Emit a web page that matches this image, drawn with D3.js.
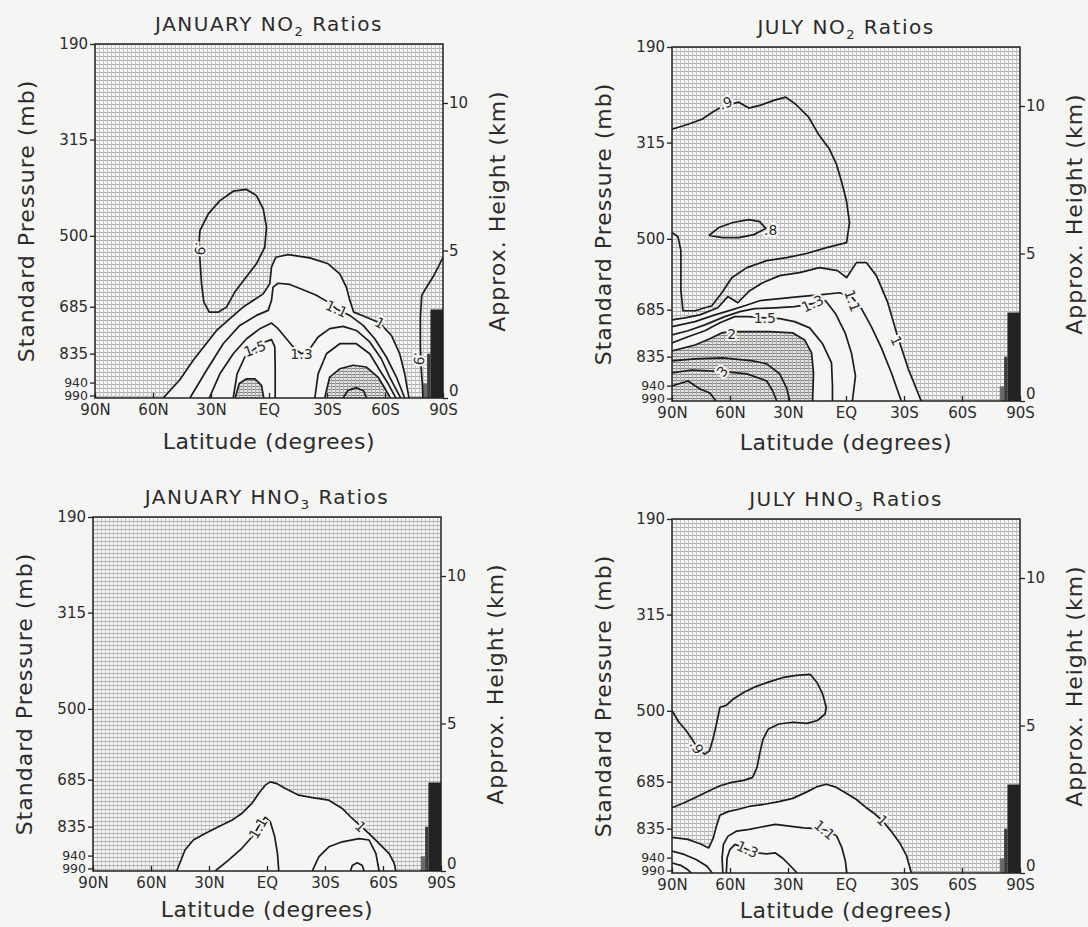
<!DOCTYPE html>
<html><head><meta charset="utf-8">
<script src="https://cdn.jsdelivr.net/npm/d3@7"></script>
<style>
body{margin:0;background:#f5f5f3}
svg{display:block}
text{font-family:'DejaVu Sans',sans-serif;fill:#2b2b2b}
</style></head>
<body><svg id="chart" width="1088" height="927"></svg>
<script>
// ---------- axis data ----------
const latTicks = [90, 60, 30, 0, -30, -60, -90];
const latTickLabels = ["90N", "60N", "30N", "EQ", "30S", "60S", "90S"];
const pressureTicks = [190, 315, 500, 685, 835, 940, 990];
const heightTicks = [0, 5, 10];
// Antarctic terrain steps: latitude edges and heights (km)
const terrainEdges = [-79.5, -81.8, -83.5, -90];
const terrainHeights = [0.5, 1.5, 3.0];

// ---------- JANUARY NO2 contours [lat, km] ----------
const janNO2_c090 = [[35.7,5.68],[31.4,6.24],[25.4,6.69],[18.5,7.01],[11.6,7.07],[6.5,6.86],[3.0,6.41],[1.3,5.79],[2.2,5.11],[6.5,4.55],[12.5,4.04],[17.7,3.59],[22.0,3.08],[26.3,2.91],[30.9,2.91],[33.7,3.25],[34.9,3.87],[35.7,4.66],[36.1,5.34],[35.7,5.68]];
const janNO2_c090pole = [[-90,4.77],[-87.9,4.49],[-84.8,4.10],[-81.7,3.78],[-79.0,3.48],[-78.3,2.74],[-78.3,1.73],[-78.8,0.94],[-79.3,0.49],[-79.6,0]];
const janNO2_c100 = [[54.7,0],[46.1,0.62],[39.2,1.28],[27.1,2.29],[13.4,3.08],[3.0,3.53],[-0.4,3.87],[-1.3,4.44],[-3.5,4.77],[-9.9,4.86],[-21.1,4.75],[-30.6,4.55],[-36.6,4.21],[-40.0,3.76],[-41.8,3.31],[-43.8,2.91],[-50.4,2.74],[-57.3,2.54],[-63.3,2.12],[-67.6,1.50],[-70.2,0.82],[-72.4,0]];
const janNO2_c110 = [[40.9,0],[32.3,0.94],[23.7,1.84],[15.1,2.46],[6.5,2.80],[0.4,2.97],[-1.3,3.31],[-2.1,3.76],[-4.7,3.89],[-10.8,3.85],[-17.6,3.67],[-24.5,3.48],[-30.6,3.25],[-34.9,3.02],[-41.8,2.80],[-48.7,2.46],[-54.7,2.01],[-60.7,1.39],[-65.9,0.71],[-70.2,0]];
const janNO2_c130 = [[30.9,0],[25.4,0.82],[18.5,1.50],[11.6,2.01],[4.7,2.35],[-1.3,2.54],[-4.7,2.35],[-9.0,2.01],[-13.3,1.67],[-16.8,1.50],[-21.1,1.67],[-25.4,2.07],[-31.4,2.35],[-38.3,2.43],[-45.2,2.29],[-52.1,1.90],[-58.1,1.33],[-62.4,0.71],[-68.1,0]];
const janNO2_c150a = [[18.5,0],[16.5,0.82],[12.5,1.39],[7.3,1.67],[2.2,1.90],[-1.3,1.98],[-3.0,1.73],[-3.2,1.05],[-3.2,0]];
const janNO2_c150b = [[-23.7,0],[-25.4,0.82],[-29.7,1.50],[-36.6,1.84],[-45.2,1.84],[-52.1,1.50],[-57.3,0.94],[-61.6,0.49],[-65.6,0]];
const janNO2_c200a = [[17.5,0],[15.4,0.49],[11.6,0.65],[7.3,0.65],[3.9,0.43],[2.7,0]];
const janNO2_c200b = [[-28.8,0],[-31.4,0.71],[-36.6,0.99],[-43.5,1.11],[-50.4,1.05],[-56.4,0.71],[-59.0,0.43],[-62.8,0]];
const janNO2_c250 = [[-38.3,0],[-40.9,0.26],[-45.2,0.35],[-49.0,0.24],[-50.4,0]];
const janNO2_labels = [[".9",35.7,5.06],["1.5",7.3,1.67],["1.3",-16.8,1.50],["1.1",-34.9,3.02],["1",-57.3,2.54],[".9",-77.6,1.33]];

// ---------- JULY NO2 contours ----------
const julNO2_c090 = [[90,9.21],[81.7,9.38],[74.5,9.55],[68.3,9.82],[63.7,9.99],[55.4,10.13],[50.3,9.93],[44.1,10.03],[36.9,10.20],[31.2,10.30],[26.0,10.06],[19.3,9.62],[14.2,9.04],[8.5,8.53],[4.9,8.02],[2.3,7.44],[-0.3,6.76],[-1.8,6.05],[-0.3,5.37],[10.1,5.20],[20.4,5.00],[30.7,4.86],[41.0,4.76],[51.3,4.52],[59.1,4.18],[64.2,3.67],[69.4,3.23],[78.1,3.06],[84.3,3.06],[85.4,3.74],[85.4,5.10],[86.9,5.57],[90,5.71]];
const julNO2_c080 = [[70.9,5.61],[65.8,5.88],[58.5,6.05],[50.3,6.15],[44.6,6.08],[41.5,5.85],[47.7,5.64],[55.4,5.54],[63.7,5.54],[70.9,5.61]];
const julNO2_c100 = [[-38.9,0],[-32.2,1.09],[-26.6,2.21],[-21.4,3.37],[-15.7,4.25],[-10.6,4.69],[-5.4,4.69],[-0.3,4.18],[4.4,4.42],[13.7,4.52],[24.0,4.35],[34.3,4.25],[43.1,4.01],[49.8,3.74],[56.0,3.33],[61.1,3.54],[66.3,3.16],[75.6,2.92],[83.3,2.82],[90,2.75]];
const julNO2_c110 = [[-28.6,0],[-23.5,0.95],[-18.3,1.80],[-13.1,2.52],[-8.0,3.13],[-2.8,3.54],[3.4,3.67],[13.7,3.60],[24.0,3.54],[34.3,3.47],[44.6,3.40],[52.4,3.23],[59.1,3.09],[67.8,2.92],[78.1,2.69],[90,2.52]];
const julNO2_c130 = [[-3.3,0],[-4.9,0.85],[-2.8,1.63],[0.3,2.28],[5.4,2.96],[10.6,3.40],[17.3,3.30],[26.6,3.20],[36.9,3.16],[47.2,3.13],[54.9,3.03],[62.7,2.86],[73.0,2.58],[81.7,2.38],[90,2.24]];
const julNO2_c150 = [[7.0,0],[7.0,0.51],[7.5,1.29],[12.1,1.94],[18.8,2.48],[26.6,2.69],[34.3,2.79],[42.0,2.82],[50.8,2.86],[57.5,2.86],[65.2,2.65],[73.0,2.38],[81.7,2.18],[90,1.97]];
const julNO2_c200 = [[17.3,0],[16.8,0.95],[17.8,1.63],[21.4,2.07],[27.6,2.31],[39.5,2.35],[52.4,2.35],[60.1,2.35],[64.2,2.31],[70.4,2.11],[78.1,1.90],[90,1.70]];
const julNO2_c250 = [[90,1.36],[78.1,1.43],[63.7,1.46],[48.2,1.36],[41.0,1.26],[34.3,0.92],[30.7,0.44],[29.1,0]];
const julNO2_c300 = [[90,0.95],[79.7,1.05],[61.6,0.99],[51.3,0.92],[41.0,0.68],[37.9,0.34],[35.8,0]];
const julNO2_c400 = [[90,0.51],[81.7,0.68],[75.6,0.41],[70.4,0.27],[67.3,0]];
const julNO2_labels = [[".9",62.2,10.1],[".8",39.0,5.80],["1.5",42.0,2.82],["1.3",17.3,3.30],["1.1",-3.3,3.40],["1",-26.0,2.04],["2",59.1,2.28],["3",64.0,1.0]];

// ---------- JANUARY HNO3 contours ----------
const janHNO3_c100 = [[46.7,0],[42.4,0.71],[38.1,1.05],[32.0,1.27],[25.1,1.50],[18.2,1.72],[13.0,1.95],[7.8,2.29],[4.3,2.63],[0.9,2.91],[-1.7,3.02],[-5.2,2.96],[-9.5,2.80],[-16.4,2.57],[-23.4,2.49],[-32.0,2.40],[-38.9,2.12],[-44.1,1.78],[-52.8,1.27],[-58.0,0.93],[-63.2,0.59],[-65.8,0.26],[-66.6,0]];
const janHNO3_c110a = [[26.8,0],[19.9,0.37],[13.0,0.77],[6.9,1.22],[3.5,1.61],[0.9,1.82],[-1.7,1.67],[-4.0,1.16],[-5.4,0.60],[-6.1,0]];
const janHNO3_c110b = [[-23.4,0],[-26.8,0.48],[-32.0,0.82],[-38.9,0.99],[-47.6,1.10],[-52.8,1.05],[-56.3,0.60],[-58.0,0]];
const janHNO3_c120 = [[-43.2,0],[-44.1,0.19],[-46.7,0.28],[-49.3,0.19],[-50.2,0]];
const janHNO3_labels = [["1.1",4.6,1.45],["1",-48.4,1.5]];

// ---------- JULY HNO3 contours ----------
const julHNO3_c090 = [[90,5.51],[86.4,5.11],[82.7,4.83],[79.1,4.48],[76.4,4.20],[73.1,4.03],[70.6,4.14],[68.8,4.54],[67.0,5.05],[65.2,5.62],[61.9,5.68],[58.3,5.90],[52.8,6.13],[47.4,6.30],[40.2,6.47],[32.9,6.62],[25.7,6.70],[18.4,6.73],[14.8,6.44],[12.1,6.07],[10.2,5.62],[10.8,5.39],[14.8,5.17],[20.2,5.07],[27.5,5.11],[34.7,5.05],[40.2,4.88],[42.9,4.54],[44.7,4.03],[46.0,3.58],[48.3,3.24],[52.8,3.14],[59.2,3.07],[65.5,2.95],[71.0,2.78],[78.2,2.55],[83.7,2.38],[90,2.21]];
const julHNO3_c100 = [[90,1.21],[81.8,1.14],[75.5,0.99],[71.0,0.85],[68.6,1.19],[67.0,1.59],[65.2,1.96],[61.0,2.08],[55.6,2.16],[49.2,2.27],[42.0,2.33],[34.7,2.42],[27.5,2.53],[20.2,2.75],[14.8,2.93],[10.2,3.01],[5.7,2.92],[0.3,2.72],[-5.2,2.50],[-10.6,2.21],[-15.1,1.99],[-18.8,1.78],[-23.3,1.42],[-27.8,1.02],[-31.4,0.57],[-33.8,0]];
const julHNO3_c110 = [[63.7,0],[64.1,0.51],[63.4,0.97],[61.0,1.25],[56.5,1.42],[50.1,1.48],[43.8,1.56],[36.5,1.65],[29.3,1.59],[22.0,1.53],[16.6,1.51],[9.3,1.44],[4.8,1.25],[2.1,0.85],[0.3,0.40],[-0.4,0]];
const julHNO3_c130 = [[61.9,0],[61.5,0.51],[60.1,0.79],[57.4,0.97],[54.3,0.89],[50.1,0.76],[45.6,0.68],[41.1,0.65],[36.5,0.68],[32.9,0.51],[29.3,0.28],[25.3,0]];
const julHNO3_c110n = [[90,0.74],[83.7,0.63],[77.3,0.45],[71.9,0.23],[69.2,0]];
const julHNO3_c130n = [[90,0.34],[85.5,0.26],[81.8,0.11],[80.0,0]];
const julHNO3_labels = [[".9",77.3,4.26],["1.3",51.0,0.80],["1.1",11.2,1.46],["1",-18.8,1.78]];

// ---------- drawing ----------
const W = 348, H = 354;
const bg = '#f5f5f3';
const svg = d3.select('#chart');
svg.append('rect').attr('width',1088).attr('height',927).attr('fill',bg);
const defs = svg.append('defs');
const st = defs.append('pattern').attr('id','stipple').attr('patternUnits','userSpaceOnUse').attr('width',4).attr('height',4);
st.append('rect').attr('width',4).attr('height',4).attr('fill',bg);
st.append('rect').attr('x',0).attr('y',0).attr('width',4).attr('height',1).attr('fill','#adadad');
st.append('rect').attr('x',0).attr('y',0).attr('width',1).attr('height',4).attr('fill','#c3c3c3');
const ht = defs.append('pattern').attr('id','hatch').attr('patternUnits','userSpaceOnUse').attr('width',4).attr('height',3);
ht.append('rect').attr('width',4).attr('height',3).attr('fill','#e2e2e0');
ht.append('rect').attr('x',0).attr('y',0).attr('width',4).attr('height',1).attr('fill','#858585');
ht.append('rect').attr('x',0).attr('y',0).attr('width',1).attr('height',3).attr('fill','#b0b0b0');

const x = d3.scaleLinear().domain([90, -90]).range([0, W]);
const yKm = d3.scaleLinear().domain([0, 12]).range([H, 0]);
const yP = d3.scalePow().exponent(0.2).domain([190, 1000]).range([0, H]);
const line = d3.line().x(d => x(d[0])).y(d => yKm(d[1]));
const terrainColors = ['#6a6a6a', '#3c3c3c', '#222'];

const panels = [
  {id:'p1', title:['JANUARY NO','2',' Ratios'], left:95, top:44, xlab:51,
   lines:[janNO2_c090, janNO2_c090pole, janNO2_c100, janNO2_c110, janNO2_c130, janNO2_c150a, janNO2_c150b, janNO2_c200a, janNO2_c200b, janNO2_c250],
   white:[janNO2_c100], hatch:[janNO2_c200a, janNO2_c200b],
   labels:janNO2_labels, angles:[95,-20,0,25,30,95]},
  {id:'p2', title:['JULY NO','2',' Ratios'], left:672, top:47, xlab:49,
   lines:[julNO2_c090, julNO2_c080, julNO2_c100, julNO2_c110, julNO2_c130, julNO2_c150, julNO2_c200, julNO2_c250, julNO2_c300, julNO2_c400],
   white:[julNO2_c100.concat([[90,0]])], hatch:[julNO2_c200.concat([[90,0]])],
   labels:julNO2_labels, angles:[-20,0,0,-25,70,65,0,-50]},
  {id:'p3', title:['JANUARY HNO','3',' Ratios'], left:93, top:517, xlab:46,
   lines:[janHNO3_c100, janHNO3_c110a, janHNO3_c110b, janHNO3_c120],
   white:[janHNO3_c100], hatch:[],
   labels:janHNO3_labels, angles:[-60,45]},
  {id:'p4', title:['JULY HNO','3',' Ratios'], left:672, top:519, xlab:45,
   lines:[julHNO3_c090, julHNO3_c100, julHNO3_c110, julHNO3_c130, julHNO3_c110n, julHNO3_c130n],
   white:[julHNO3_c100.concat([[90,0]])], hatch:[],
   labels:julHNO3_labels, angles:[60,25,40,45]}
];

panels.forEach(p => {
  const g = svg.append('g').attr('transform', `translate(${p.left},${p.top})`);
  defs.append('clipPath').attr('id','clip-'+p.id).append('rect').attr('width',W).attr('height',H);
  const plot = g.append('g').attr('clip-path', `url(#clip-${p.id})`);
  plot.append('rect').attr('width',W).attr('height',H).attr('fill','url(#stipple)');
  p.white.forEach(poly => plot.append('path').attr('d', line(poly) + 'Z').attr('fill', bg));
  p.hatch.forEach(poly => plot.append('path').attr('d', line(poly) + 'Z').attr('fill', 'url(#hatch)'));
  terrainHeights.forEach((h, i) => {
    plot.append('rect')
      .attr('x', x(terrainEdges[i]))
      .attr('width', x(terrainEdges[i+1]) - x(terrainEdges[i]))
      .attr('y', yKm(h)).attr('height', H - yKm(h))
      .attr('fill', terrainColors[i]);
  });
  p.lines.forEach(l => plot.append('path').attr('d', line(l))
    .attr('fill','none').attr('stroke','#1c1c1c').attr('stroke-width',1.7).attr('stroke-linejoin','round'));
  p.labels.forEach((lb, i) => {
    plot.append('text')
      .attr('transform', `translate(${x(lb[1])},${yKm(lb[2])}) rotate(${p.angles[i]})`)
      .attr('text-anchor','middle').attr('dy','0.35em')
      .style('font-size','14px')
      .style('paint-order','stroke').style('stroke', bg).style('stroke-width','4px')
      .text(lb[0]);
  });
  g.append('rect').attr('width',W).attr('height',H).attr('fill','none').attr('stroke','#222').attr('stroke-width',1.5);

  const ax1 = g.append('g').call(d3.axisLeft(yP).tickValues(pressureTicks).tickSize(5).tickPadding(2));
  const ax2 = g.append('g').attr('transform', `translate(${W},0)`).call(d3.axisRight(yKm).tickValues(heightTicks).tickSize(5).tickPadding(1));
  const ax3 = g.append('g').attr('transform', `translate(0,${H})`)
    .call(d3.axisBottom(x).tickValues(latTicks).tickFormat((d, i) => latTickLabels[i]).tickSizeInner(-5).tickSizeOuter(0).tickPadding(2));
  [ax1, ax2, ax3].forEach(a => {
    a.select('.domain').remove();
    a.selectAll('line').attr('stroke','#222').attr('stroke-width',1.3);
    a.selectAll('text').style('font-size','15px').style('font-family',"'DejaVu Sans',sans-serif").attr('fill','#2b2b2b');
  });
  // the two closely spaced near-surface levels are squeezed, as in the original
  ax1.selectAll('.tick').filter(d => d >= 940).select('text').style('font-size','12.5px');
  ax3.selectAll('text').attr('y', 6).attr('dy','0.71em');
  ax2.selectAll('.tick').filter(d => d === 0).select('text').attr('dy','-0.15em');

  const t = g.append('text').attr('x', W/2).attr('y', -13).attr('text-anchor','middle')
    .style('font-size','20px').style('letter-spacing','1.5px');
  t.append('tspan').text(p.title[0]);
  t.append('tspan').attr('dy', 5).style('font-size','13px').text(p.title[1]);
  t.append('tspan').attr('dy', -5).text(p.title[2]);

  g.append('text').attr('transform', `translate(-69,${H/2}) rotate(-90)`).attr('text-anchor','middle').attr('dy','0.35em')
    .style('font-size','22px').style('letter-spacing','1px').text('Standard Pressure (mb)');
  g.append('text').attr('transform', `translate(${W+54},${H/2 - 10}) rotate(-90)`).attr('text-anchor','middle').attr('dy','0.35em')
    .style('font-size','22px').style('letter-spacing','1px').text('Approx. Height (km)');
  g.append('text').attr('x', W/2).attr('y', H + p.xlab).attr('text-anchor','middle')
    .style('font-size','22px').style('letter-spacing','0.5px').text('Latitude (degrees)');
});
</script>
</body></html>
